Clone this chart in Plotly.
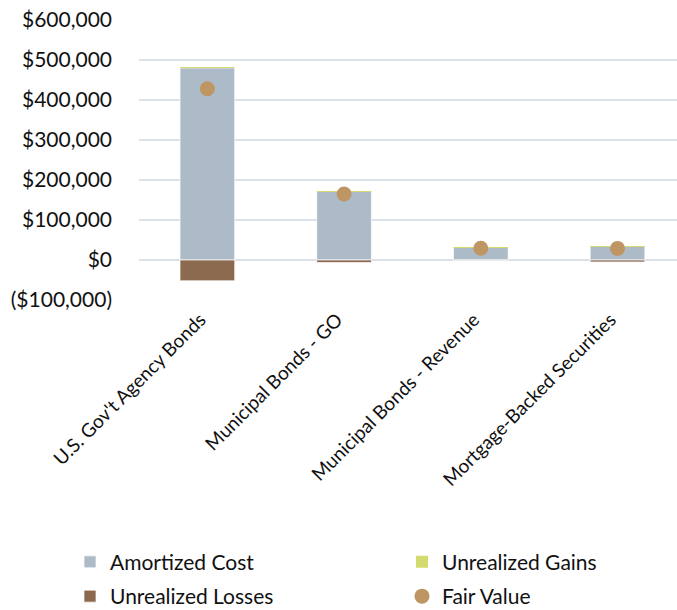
import plotly.graph_objects as go

categories = ["U.S. Gov't Agency Bonds", "Municipal Bonds - GO",
              "Municipal Bonds - Revenue", "Mortgage-Backed Securities"]
amortized_cost = [480000, 172000, 31500, 34500]
unrealized_gains = [1200, 300, 150, 100]
unrealized_losses = [-52000, -6500, -1000, -5000]
fair_value = [428000, 165000, 29500, 29000]

tick_vals = [-100000, 0, 100000, 200000, 300000, 400000, 500000, 600000]
tick_text = ["($100,000)", "$0", "$100,000", "$200,000", "$300,000",
             "$400,000", "$500,000", "$600,000"]

FONT = "Lato"
TEXT = "#111111"
idx = list(range(len(categories)))
outline = dict(color="rgba(255,255,255,0.7)", width=1)

fig = go.Figure()
fig.add_trace(go.Bar(x=idx, y=amortized_cost, name="Amortized Cost",
                     marker=dict(color="#ADBAC7", line=outline), width=0.4,
                     legend="legend", legendgroup="a"))
fig.add_trace(go.Bar(x=idx, y=unrealized_gains, name="Unrealized Gains",
                     marker=dict(color="#D3DB6E", line=dict(width=0)), width=0.4,
                     legend="legend2", legendgroup="b"))
fig.add_trace(go.Bar(x=idx, y=unrealized_losses, name="Unrealized Losses",
                     marker=dict(color="#8B6A50", line=outline), width=0.4,
                     legend="legend", legendgroup="c"))
fig.add_trace(go.Scatter(x=idx, y=fair_value, name="Fair Value", mode="markers",
                         marker=dict(color="#BE9664", size=15, symbol="circle"),
                         legend="legend2", legendgroup="d"))

legend_common = dict(
    orientation="v", xref="container", yref="container",
    y=0.112, xanchor="left", yanchor="top",
    font=dict(size=21, family=FONT, color=TEXT),
    traceorder="grouped", tracegroupgap=4, bgcolor="rgba(0,0,0,0)",
)

fig.update_layout(
    width=677, height=610,
    barmode="relative",
    plot_bgcolor="white", paper_bgcolor="white",
    margin=dict(l=139, r=0, t=20, b=310, autoexpand=False),
    font=dict(family=FONT, color=TEXT),
    xaxis=dict(
        range=[-0.5, 3.435],
        tickmode="array", tickvals=idx, ticktext=categories,
        tickangle=-45, tickfont=dict(size=19, family=FONT, color=TEXT),
        ticklabelshift=-7, ticklabelstandoff=4,
        showgrid=False, zeroline=False, showline=False, ticks="",
        automargin=False,
    ),
    yaxis=dict(
        range=[-100000, 600000],
        tickmode="array", tickvals=tick_vals, ticktext=tick_text,
        tickfont=dict(size=21, family=FONT, color=TEXT),
        ticklabelstandoff=26,
        showgrid=True, gridcolor="#DCE1E8", gridwidth=2,
        zeroline=False, showline=False, ticks="", ticklen=0,
        automargin=False,
    ),
    legend=dict(x=70 / 677, **legend_common),
    legend2=dict(x=402 / 677, **legend_common),
    showlegend=True,
)

fig.write_html("out.html")
